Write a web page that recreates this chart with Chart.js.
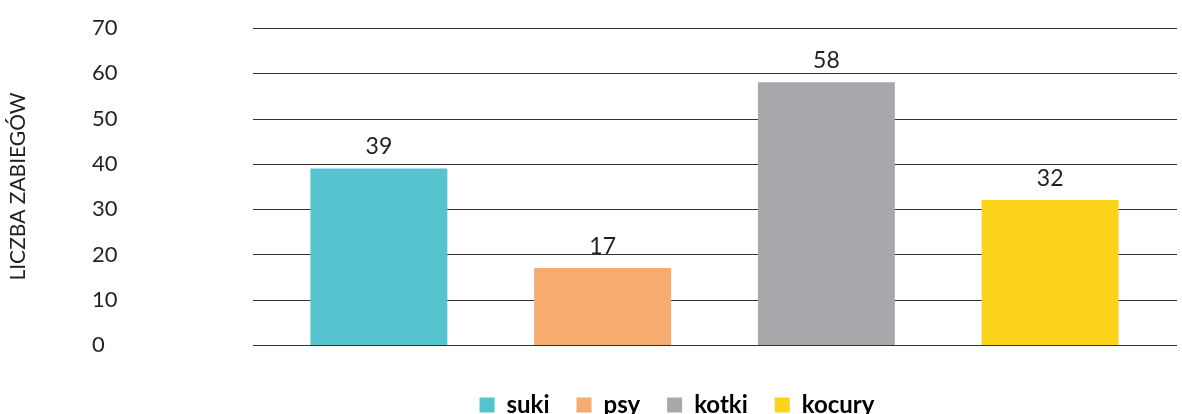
<!DOCTYPE html>
<html>
<head>
<meta charset="utf-8">
<script src="https://cdn.jsdelivr.net/npm/chart.js@4"></script>
<style>
  html, body { margin: 0; padding: 0; background: #fff; overflow: hidden; }
  canvas { display: block; }
</style>
</head>
<body>
<canvas id="myChart" width="1182" height="430"></canvas>
<script>
(() => {
  'use strict'

  const labels = ['suki', 'psy', 'kotki', 'kocury']
  const values = [39, 17, 58, 32]
  const colors = ['#55c4ce', '#f5ac6e', '#a7a8ab', '#fcd31b']
  const yTicks = [0, 10, 20, 30, 40, 50, 60, 70]

  const textColor = '#231f20'
  const fontFamily = 'Lato, "Open Sans", sans-serif'

  // horizontal grid lines, a bit wider than the plot area
  const gridLines = {
    id: 'gridLines',
    beforeDatasetsDraw (chart) {
      const { ctx, scales: { y } } = chart
      ctx.save()
      ctx.strokeStyle = '#333'
      ctx.lineWidth = 1
      yTicks.forEach(v => {
        const py = Math.round(y.getPixelForValue(v)) + 0.5
        ctx.beginPath()
        ctx.moveTo(253, py)
        ctx.lineTo(1177, py)
        ctx.stroke()
      })
      ctx.restore()
    }
  }

  // value above each bar
  const valueLabels = {
    id: 'valueLabels',
    afterDatasetsDraw (chart) {
      const { ctx } = chart
      const meta = chart.getDatasetMeta(0)
      ctx.save()
      ctx.font = '23px ' + fontFamily
      ctx.fillStyle = textColor
      ctx.textAlign = 'center'
      ctx.textBaseline = 'alphabetic'
      meta.data.forEach((bar, i) => {
        ctx.fillText(String(values[i]), bar.x, bar.y - 14)
      })
      ctx.restore()
    }
  }

  // legend sits under the bars, centred on x = 677
  const legendShift = {
    id: 'legendShift',
    afterLayout (chart) {
      const lg = chart.legend
      const pad = lg.options.labels.padding
      const rowW = lg.lineWidths[0]
      const start = (lg.left + pad + lg.right - rowW) / 2
      const dx = 677 - (start + (rowW - pad) / 2)
      lg.left += dx
      lg.right += dx
    }
  }

  const ctx = document.getElementById('myChart')
  // eslint-disable-next-line no-unused-vars
  const myChart = new Chart(ctx, {
    type: 'bar',
    data: {
      labels: labels,
      datasets: [{
        data: values,
        backgroundColor: colors,
        borderWidth: 0,
        categoryPercentage: 1,
        barPercentage: 0.612
      }]
    },
    options: {
      responsive: false,
      animation: false,
      layout: {
        autoPadding: false,
        padding: { top: 28, right: 20, left: 92, bottom: 3 }
      },
      scales: {
        x: {
          grid: { display: false },
          border: { display: false },
          ticks: { display: false },
          afterFit (scale) {
            scale.height = 21
          }
        },
        y: {
          min: 0,
          max: 70,
          afterBuildTicks (scale) {
            scale.ticks = yTicks.map(v => ({ value: v }))
          },
          afterFit (scale) {
            scale.width = 175
          },
          grid: { display: false, drawTicks: false },
          border: { display: false },
          ticks: {
            crossAlign: 'far',
            padding: 0,
            color: textColor,
            font: { family: fontFamily, size: 22 }
          },
          title: {
            display: true,
            text: 'LICZBA ZABIEGÓW',
            color: textColor,
            // pulls the title back to the left edge of the canvas
            padding: { top: -86, bottom: 0 },
            font: { family: fontFamily, size: 21 }
          }
        }
      },
      plugins: {
        legend: {
          position: 'bottom',
          labels: {
            boxWidth: 15,
            boxHeight: 15,
            padding: 27,
            color: textColor,
            font: { family: fontFamily, size: 24, weight: 'bold' },
            generateLabels: () => labels.map((l, i) => ({
              text: l,
              fillStyle: colors[i],
              strokeStyle: colors[i],
              lineWidth: 0,
              hidden: false,
              index: i
            }))
          }
        },
        tooltip: { enabled: false }
      }
    },
    plugins: [gridLines, valueLabels, legendShift]
  })
})()
</script>
</body>
</html>
